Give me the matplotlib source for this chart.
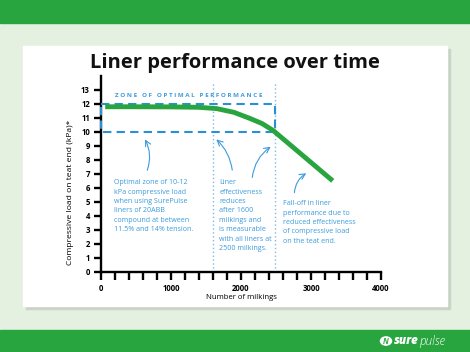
import numpy as np
import matplotlib
matplotlib.use("Agg")
import matplotlib.pyplot as plt
from matplotlib.patches import Rectangle, Circle

# data
milkings = [60, 500, 1000, 1400, 1650, 1900, 2130, 2300, 2460, 2850, 3310]
load_kpa = [11.8, 11.8, 11.79, 11.76, 11.67, 11.4, 10.96, 10.6, 10.1, 8.45, 6.5]
zone_low, zone_high, zone_end = 10, 12, 2490
marks = [1600, 2490]
y_ticks = list(range(0, 14))
x_ticks = list(range(0, 4001, 200))
x_labels = {0: "0", 1000: "1000", 2000: "2000", 3000: "3000", 4000: "4000"}

green = "#29a53f"
blue = "#2b8fd6"
txt_blue = "#3b9bdc"
font = "Open Sans"

fig = plt.figure(figsize=(4.7, 3.52), dpi=100)
fig.patch.set_facecolor("#e4f1e0")

# frame: bands, card and its shadow (behind the axes)
def rect(x, y, w, h, c):
    fig.patches.append(Rectangle((x/470, 1 - (y + h)/352), w/470, h/352,
                                 transform=fig.transFigure, color=c, zorder=-5))

rect(0, 0, 470, 23, green)
rect(0, 330, 470, 22, green)
rect(26, 49, 424, 260, "#c9d3c7")
rect(23, 46, 424, 260, "white")

fig.text(235/470, 1 - 63/352, "Liner performance over time", ha="center", va="center",
         fontsize=14.5, fontweight="bold", family=font, color="#111111")

ax = fig.add_axes([101/470, 1 - 271.7/352, 280/470, 195.7/352])
ax.set_facecolor("none")
ax.set_xlim(0, 4000)
ax.set_ylim(0, 14)
for s in ["top", "right"]:
    ax.spines[s].set_visible(False)
for s in ["left", "bottom"]:
    ax.spines[s].set_linewidth(1.7)
ax.set_yticks(y_ticks)
ax.set_yticklabels([str(v) for v in y_ticks], fontsize=5.6, fontweight="bold", family=font)
ax.set_xticks(x_ticks)
ax.set_xticklabels([x_labels.get(v, "") for v in x_ticks], fontsize=5.6, fontweight="bold", family=font)
ax.tick_params(axis="y", width=1.7, length=5, pad=3)
ax.tick_params(axis="x", width=1.7, length=6, pad=3)

# zone and markers
ax.plot([0, zone_end, zone_end, 0, 0], [zone_high, zone_high, zone_low, zone_low, zone_high],
        color=blue, lw=1.5, ls=(0, (4, 2.5)), clip_on=False, zorder=3)
for m in marks:
    ax.plot([m, m], [0, 13.55], color="#7dbbe8", lw=1, ls=(0, (1, 1.8)), clip_on=False, zorder=1)
ax.text(1250, 12.62, "Z O N E   O F   O P T I M A L   P E R F O R M A N C E", ha="center",
        va="center", fontsize=4.5, fontweight="bold", family=font, color=txt_blue)

ax.plot(milkings, load_kpa, color=green, lw=3.5, solid_capstyle="butt", zorder=4)

ax.set_xlabel("Number of milkings", fontsize=5.6, family=font)
ax.xaxis.set_label_coords(0.5, -0.115)
fig.text(70/470, 1 - 192/352, "Compressive load on teat end (kPa)*", rotation=90,
         ha="center", va="center", fontsize=6.1, family=font)

notes = [
    (190, 6.62, "Optimal zone of 10-12\nkPa compressive load\nwhen using SurePulse\nliners of 20ABB\ncompound at between\n11.5% and 14% tension."),
    (1690, 6.62, "Liner\neffectiveness\nreduces\nafter 1600\nmilkings and\nis measurable\nwith all liners at\n2500 milkings."),
    (2605, 5.12, "Fall-off in liner\nperformance due to\nreduced effectiveness\nof compressive load\non the teat end."),
]
for x, y, t in notes:
    ax.text(x, y, t, ha="left", va="top", fontsize=5.1, family=font, color=txt_blue,
            linespacing=1.48)

arrows = [((647, 7.07), (609, 9.64), 0.25),
          ((1880, 7.07), (1619, 9.6), 0.2),
          ((2157, 6.55), (2457, 9.05), -0.25),
          ((2761, 5.46), (2966, 7.14), -0.3)]
for tail, tip, rad in arrows:
    ax.annotate("", xy=tip, xytext=tail,
                arrowprops=dict(arrowstyle="->", color=txt_blue, lw=0.8,
                                connectionstyle="arc3,rad=%s" % rad))

# logo
fig.patches.append(Circle((386/470, 1 - 341/352), 5.5/470, transform=fig.transFigure,
                          color="white", zorder=2))
fig.text(386/470, 1 - 341.5/352, "N", ha="center", va="center", fontsize=5.5,
         fontweight="bold", style="italic", color=green, family=font)
fig.text(394/470, 1 - 341/352, "sure", ha="left", va="center", fontsize=8.5,
         fontweight="heavy", style="italic", color="white", family=font)
fig.text(419/470, 1 - 341/352, "pulse", ha="left", va="center", fontsize=8.5,
         fontweight="light", style="italic", color="white", family=font)

fig.savefig("out.png", dpi=100, facecolor=fig.get_facecolor())
